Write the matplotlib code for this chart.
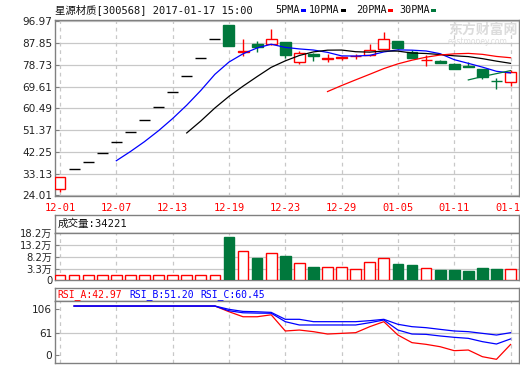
import matplotlib
matplotlib.use('Agg')
import matplotlib.pyplot as plt
import numpy as np
import pandas as pd
from matplotlib.patches import Rectangle

# ---------------- data ----------------
dates = ['12-01', '12-02', '12-05', '12-06', '12-07', '12-08', '12-09', '12-12', '12-13',
         '12-14', '12-15', '12-16', '12-19', '12-20', '12-21', '12-22', '12-23', '12-26',
         '12-27', '12-28', '12-29', '12-30', '01-03', '01-04', '01-05', '01-06', '01-09',
         '01-10', '01-11', '01-12', '01-13', '01-16', '01-17']
opens = [26.90, 34.94, 38.15, 41.91, 46.20, 50.80, 55.68, 61.10, 67.36, 74.16, 81.60, 89.47,
         95.30, 83.90, 87.40, 87.60, 88.30, 80.10, 83.20, 81.35, 81.40, 82.45, 82.90, 85.40,
         88.50, 84.30, 80.75, 80.50, 79.00, 78.05, 77.10, 72.10, 71.40]
highs = [31.60, 34.94, 38.15, 41.91, 46.20, 50.80, 55.68, 61.10, 67.36, 74.16, 81.60, 89.47,
         95.30, 89.50, 88.50, 93.60, 88.30, 84.70, 83.60, 83.20, 82.60, 83.30, 87.50, 92.60,
         88.50, 85.00, 82.90, 80.70, 79.40, 79.70, 77.10, 73.40, 76.40]
lows = [25.30, 34.94, 38.15, 41.91, 46.20, 50.80, 55.68, 61.10, 67.36, 74.16, 81.60, 89.47,
        86.40, 82.50, 84.30, 87.20, 81.40, 79.20, 80.50, 79.70, 80.80, 81.10, 82.60, 85.40,
        85.30, 81.50, 78.30, 79.30, 77.10, 78.00, 72.90, 68.50, 69.70]
closes = [31.60, 34.94, 38.15, 41.91, 46.20, 50.80, 55.68, 61.10, 67.36, 74.16, 81.60, 89.47,
          86.80, 84.70, 86.30, 89.50, 82.80, 83.60, 82.40, 81.40, 82.10, 82.50, 85.00, 89.60,
          85.70, 81.50, 80.80, 79.30, 77.10, 78.00, 73.60, 72.05, 75.80]
volumes = [8000, 8000, 8000, 8000, 8000, 8000, 8000, 8000, 8000, 8000, 8000, 8000,
           165700, 107500, 80200, 100600, 88400, 58600, 43600, 41100, 41100, 33000, 62700,
           77800, 54600, 50500, 37100, 30100, 30100, 26100, 38300, 34200, 34221]

# RSI values (first trading day has none)
rsi_a = [np.nan, 100, 100, 100, 100, 100, 100, 100, 100, 100, 100, 100,
         91.6, 84.1, 84.1, 87.0, 63.0, 64.4, 62.0, 58.5, 59.5, 60.5, 69.4, 76.8,
         57.0, 45.7, 43.2, 39.7, 33.8, 34.8, 24.9, 21.0, 42.97]
rsi_b = [np.nan, 100, 100, 100, 100, 100, 100, 100, 100, 100, 100, 100,
         93.0, 90.0, 89.5, 89.3, 76.8, 71.9, 71.9, 71.9, 71.9, 71.9, 75.3, 79.3,
         64.4, 58.5, 58.0, 55.6, 53.6, 52.1, 47.2, 43.7, 51.20]
rsi_c = [np.nan, 100, 100, 100, 100, 100, 100, 100, 100, 100, 100, 100,
         95.1, 92.0, 91.5, 90.6, 80.3, 80.3, 76.8, 76.8, 76.8, 76.8, 78.3, 80.3,
         72.9, 69.4, 67.9, 65.4, 63.0, 62.0, 59.5, 57.0, 60.45]

price_ticks = [24.01, 33.13, 42.25, 51.37, 60.49, 69.61, 78.73, 87.85, 96.97]
vol_ticks = [33000, 82000, 132000, 182000]
vol_tick_labels = ['3.3万', '8.2万', '13.2万', '18.2万']
rsi_tick_labels = ['106', '61', '0']
ma_periods = [5, 10, 20, 30]
ma_names = ['5PMA', '10PMA', '20PMA', '30PMA']
rsi_names = ['RSI_A', 'RSI_B', 'RSI_C']
title = '星源材质[300568] 2017-01-17 15:00'
vol_title = '成交量:34221'

# ---------------- style ----------------
RED = '#FF0000'
GREEN = '#00783C'
BLUE = '#0000FF'
BLACK = '#000000'
GRID = '#C8C8C8'
SPINE = '#808080'
ma_colors = [BLUE, BLACK, RED, GREEN]
rsi_colors = [RED, BLUE, BLUE]
MONO = ['DejaVu Sans Mono', 'Noto Sans CJK SC']
SANS = ['DejaVu Sans', 'Noto Sans CJK SC']

W, H = 520, 365
fig = plt.figure(figsize=(W / 100, H / 100), dpi=100)
fig.patch.set_facecolor('white')


def fax(x0, y0, x1, y1):
    return fig.add_axes([x0 / W, 1 - y1 / H, (x1 - x0) / W, (y1 - y0) / H])


def px(x, y):
    return x / W, 1 - y / H


n = len(closes)
idx = np.arange(n)
XL = (-0.355, 32.6)
label_idx = list(range(0, n, 4))
o = np.array(opens); c = np.array(closes); h = np.array(highs); l = np.array(lows)


def style_axes(ax):
    for s in ax.spines.values():
        s.set_color(SPINE)
        s.set_linewidth(1.0)
    ax.set_xlim(*XL)
    ax.set_facecolor('white')


# ---------------- main price chart ----------------
ax = fax(55, 19.5, 519, 195.5)
style_axes(ax)
ax.set_ylim(24.0, 97.7)
ax.set_yticks(price_ticks)
ax.set_yticklabels([f'{v:.2f}' for v in price_ticks])
ax.tick_params(axis='y', direction='in', length=3, color=SPINE, labelsize=7.6,
               labelcolor='#222222', pad=2)
ax.set_xticks(label_idx)
ax.set_xticklabels([dates[i] for i in label_idx])
ax.tick_params(axis='x', length=0, pad=5.5, labelsize=7.5, labelcolor=RED)
for t in ax.get_xticklabels():
    t.set_fontfamily(MONO)
for v in price_ticks:
    ax.axhline(v, color=GRID, lw=0.9, zorder=0)
for i in label_idx:
    ax.axvline(i, color=GRID, lw=0.9, ls=(0, (3, 3)), zorder=0)

bw = 0.78
for i in range(n):
    if h[i] == l[i]:
        ax.hlines(c[i], i - bw / 2, i + bw / 2, color=BLACK, lw=1.0, zorder=3)
        continue
    col = RED if c[i] >= o[i] else GREEN
    ax.vlines(i, l[i], h[i], color=col, lw=1.0, zorder=2)
    bot = min(o[i], c[i]); ht = abs(c[i] - o[i])
    face = 'white' if col == RED else GREEN
    ax.bar(i, ht, bottom=bot, width=bw, facecolor=face, edgecolor=col, lw=1.0, zorder=3)

cs = pd.Series(closes)
for p, colr in zip(ma_periods, ma_colors):
    ma = cs.rolling(p).mean()
    ax.plot(idx, ma.values, color=colr, lw=0.9, zorder=4)

# title + legend
fig.text(*px(55, 10), title, fontfamily=MONO, fontsize=7.5, va='center', ha='left', color='#111111')
leg_x = [275, 309, 356, 399]
leg_texts = []
for x0, name in zip(leg_x, ma_names):
    leg_texts.append(fig.text(*px(x0, 10), name, fontfamily=MONO, fontsize=7.3, va='center',
                              ha='left', color='#111111'))
fig.canvas.draw()
r = fig.canvas.get_renderer()
for t, colr in zip(leg_texts, ma_colors):
    bb = t.get_window_extent(r)
    x1 = bb.x1 + 1
    fig.add_artist(Rectangle((x1 / W, (H - 11.5) / H), 5 / W, 3 / H, transform=fig.transFigure,
                             facecolor=colr, edgecolor='none'))

# watermark
fig.text(*px(448, 30), '东方财富网', fontfamily=['Noto Sans CJK SC'], fontsize=10, fontweight='bold',
         color='#DCDCDC', va='center', ha='left', zorder=0)
fig.text(*px(448, 41), 'eastmoney.com', fontfamily=['DejaVu Sans'], fontsize=5.5,
         color='#DCDCDC', va='center', ha='left', zorder=0)

# ---------------- volume ----------------
axv_t = fax(55, 215, 519, 232.7)
style_axes(axv_t)
axv_t.set_xticks([]); axv_t.set_yticks([])
axv_t.text(0.005, 0.5, vol_title, transform=axv_t.transAxes, fontfamily=MONO, fontsize=7.6,
           va='center', ha='left', color='#111111')

axv = fax(55, 232.7, 519, 279.8)
style_axes(axv)
vmin = -9770
axv.set_ylim(vmin, 182000)
axv.set_yticks([vmin] + vol_ticks)
axv.set_yticklabels(['0'] + vol_tick_labels)
for t in axv.get_yticklabels():
    t.set_fontfamily(SANS)
axv.tick_params(axis='y', direction='in', length=3, color=SPINE, labelsize=7.2,
                labelcolor='#222222', pad=2)
axv.set_xticks([])
for v in vol_ticks[:-1]:
    axv.axhline(v, color=GRID, lw=0.9, zorder=0)
for i in label_idx:
    axv.axvline(i, color=GRID, lw=0.9, ls=(0, (3, 3)), zorder=0)
vol_cols = [RED if (c[i] >= o[i]) else GREEN for i in range(n)]
vv = np.array(volumes)
axv.bar(idx, vv - vmin, bottom=vmin, width=0.76,
        facecolor=['white' if cc == RED else GREEN for cc in vol_cols],
        edgecolor=vol_cols, lw=1.0, zorder=3)

# ---------------- RSI ----------------
axr_t = fax(55, 288, 519, 300.7)
style_axes(axr_t)
axr_t.set_xticks([]); axr_t.set_yticks([])
rsis = [rsi_a, rsi_b, rsi_c]
labels_pos = [57, 129, 200]
for name, rs, colr, xp in zip(rsi_names, rsis, rsi_colors, labels_pos):
    fig.text(*px(xp, 294.5), f'{name}:{rs[-1]:.2f}', fontfamily=MONO, fontsize=7.0,
             color=colr, va='center', ha='left')

axr = fax(55, 300.7, 519, 363.3)
style_axes(axr)
axr.set_ylim(15.1, 107.9)
rsi_tick_pos = [95.1, 59.6, 27.4]
axr.set_yticks(rsi_tick_pos)
axr.set_yticklabels(rsi_tick_labels)
axr.tick_params(axis='y', direction='in', length=3, color=SPINE, labelsize=7.6,
                labelcolor='#222222', pad=2)
axr.set_xticks([])
axr.axhline(rsi_tick_pos[1], color=GRID, lw=0.9, zorder=0)
for i in label_idx:
    axr.axvline(i, color=GRID, lw=0.9, ls=(0, (3, 3)), zorder=0)
for rs, colr in zip(rsis, rsi_colors):
    axr.plot(idx, rs, color=colr, lw=0.9, zorder=3)

fig.savefig('out.png', dpi=100, facecolor='white')
